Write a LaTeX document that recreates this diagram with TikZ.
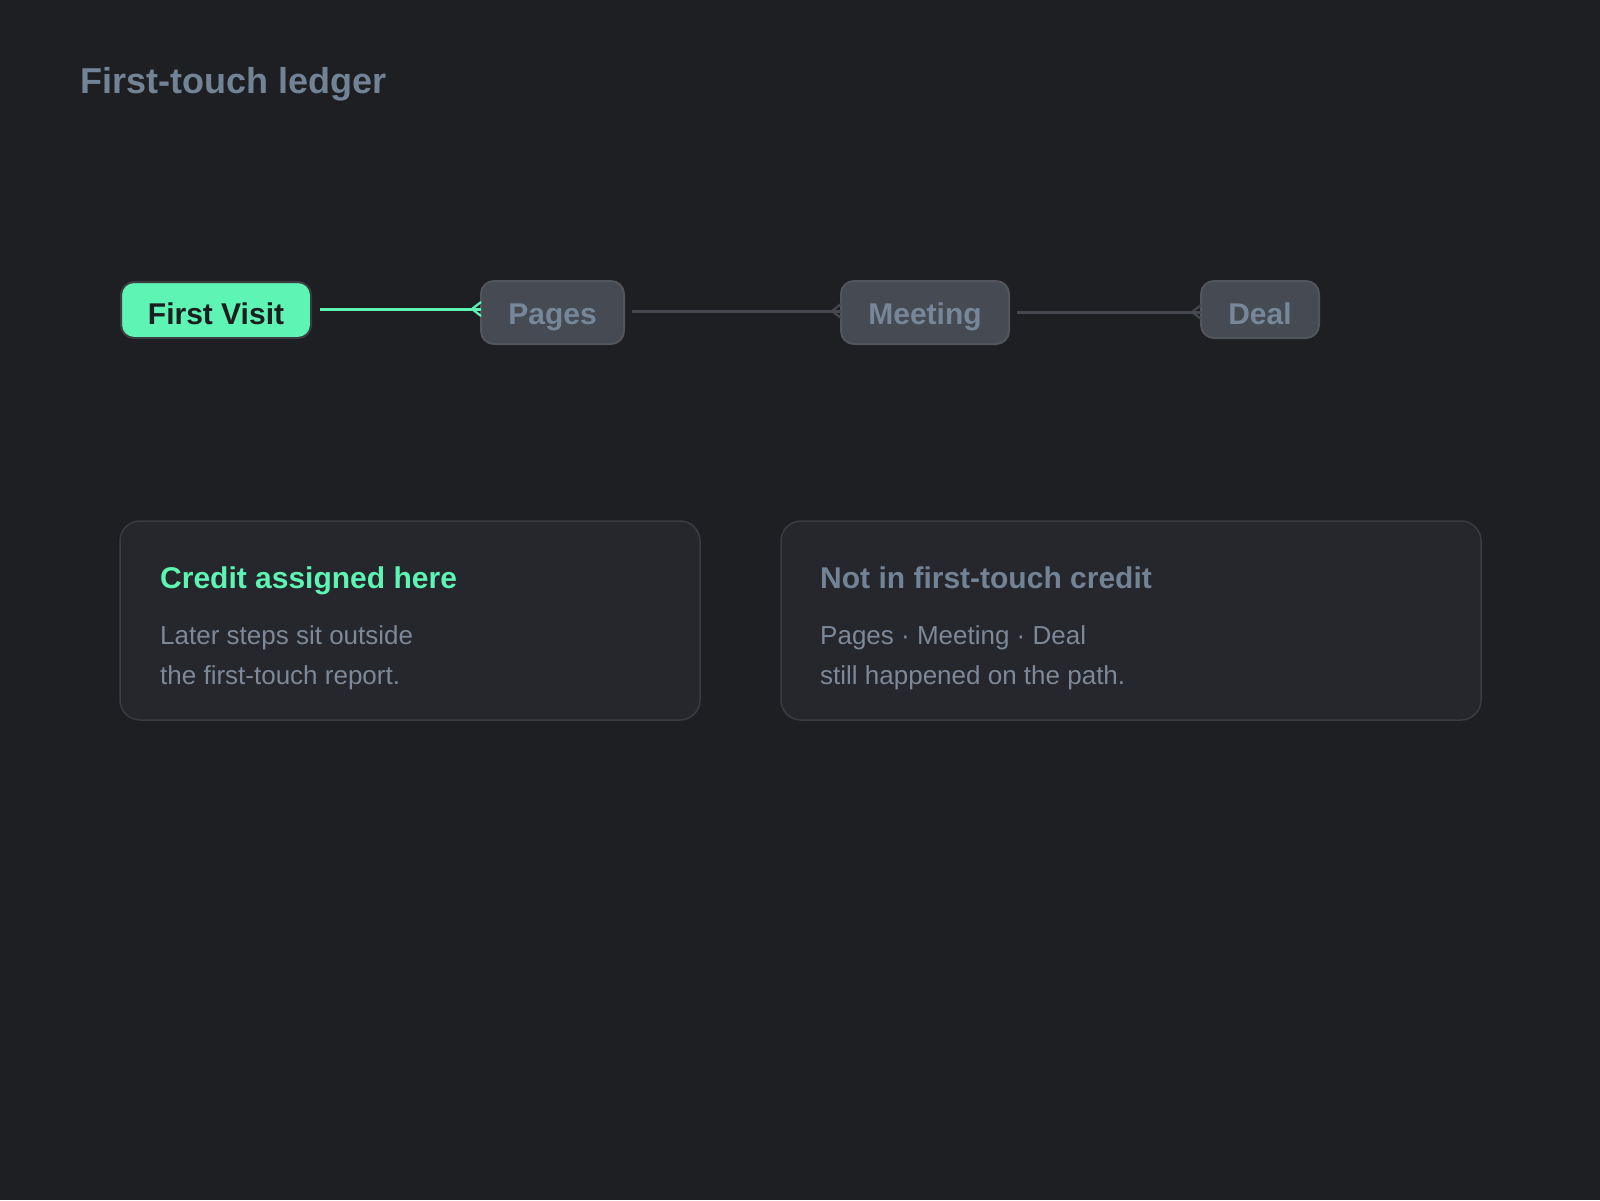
\documentclass[tikz,border=0pt]{standalone}
\usepackage{fontspec}
\setmainfont{Liberation Sans}
\definecolor{bg}{HTML}{1E1F22}
\definecolor{mint}{HTML}{5EF5B4}
\definecolor{cardfill}{HTML}{25272C}
\definecolor{cardline}{HTML}{3A3C42}
\definecolor{chipfill}{HTML}{464A52}
\definecolor{chipline}{HTML}{52555C}
\definecolor{chiptext}{HTML}{76879A}
\definecolor{titlecol}{HTML}{738396}
\definecolor{bodycol}{HTML}{7D8898}
\definecolor{greyline}{HTML}{45484F}
\definecolor{darktext}{HTML}{1B1D1F}
\begin{document}
\begin{tikzpicture}[x=1pt,y=-1pt,
  chip/.style={draw=chipline, line width=2pt, fill=chipfill, rounded corners=13pt,
    text=chiptext, font=\fontsize{30}{36}\selectfont\bfseries, inner sep=0pt, outer sep=0pt},
  firstchip/.style={chip, fill=mint, draw=cardline, text=darktext},
  card/.style={draw=cardline, line width=1.5pt, fill=cardfill, rounded corners=20pt},
  link/.style={line width=3pt, greyline},
  greenlink/.style={line width=3pt, mint},
  foot/.style={line width=2.2pt}
]
\fill[bg] (0,0) rectangle (1600,1200);
\useasboundingbox (0,0) rectangle (1600,1200);

\node[anchor=base west, text=titlecol, font=\fontsize{36}{42}\selectfont\bfseries, inner sep=0pt] (title) at (80,93) {First-touch ledger};

\node[firstchip, minimum width=190pt, minimum height=56pt, text height=29pt, text depth=0pt] (fv) at (216,310) {First Visit};
\node[chip, minimum width=143pt, minimum height=63pt, text height=24pt, text depth=0pt] (pages) at (552.5,312.5) {Pages};
\node[chip, minimum width=168pt, minimum height=63pt, text height=24pt, text depth=0pt] (meeting) at (925,312.5) {Meeting};
\node[chip, minimum width=118pt, minimum height=57pt, text height=30pt, text depth=0pt] (deal) at (1260,309.5) {Deal};

% First Visit -> Pages
\draw[greenlink] ([xshift=9pt,yshift=1pt]fv.east) -- ([yshift=1pt]fv.east -| pages.west);
\draw[mint, foot] ([xshift=-9pt,yshift=1pt]fv.east -| pages.west) -- ([yshift=8pt]fv.east -| pages.west);
\draw[mint, foot] ([xshift=-9pt,yshift=1pt]fv.east -| pages.west) -- ([yshift=-6pt]fv.east -| pages.west);

% Pages -> Meeting
\draw[link] ([xshift=8pt,yshift=1.5pt]pages.east) -- ([yshift=1.5pt]pages.east -| meeting.west);
\draw[greyline, foot] ([xshift=-9pt,yshift=1.5pt]pages.east -| meeting.west) -- ([yshift=8.5pt]pages.east -| meeting.west);
\draw[greyline, foot] ([xshift=-9pt,yshift=1.5pt]pages.east -| meeting.west) -- ([yshift=-5.5pt]pages.east -| meeting.west);

% Meeting -> Deal
\draw[link] ([xshift=8pt,yshift=0.5pt]meeting.east) -- ([yshift=0.5pt]meeting.east -| deal.west);
\draw[greyline, foot] ([xshift=-9pt,yshift=0.5pt]meeting.east -| deal.west) -- ([yshift=7.5pt]meeting.east -| deal.west);
\draw[greyline, foot] ([xshift=-9pt,yshift=0.5pt]meeting.east -| deal.west) -- ([yshift=-6.5pt]meeting.east -| deal.west);

\draw[card] (120,521) rectangle (700,720);
\draw[card] (781,521) rectangle (1481,720);

\node[anchor=base west, inner sep=0pt, text=mint, font=\fontsize{30}{36}\selectfont\bfseries] (h1) at (160,588) {Credit assigned here};
\node[anchor=base west, inner sep=0pt, text=bodycol, font=\fontsize{26}{30}\selectfont] (b1a) at (160,644) {Later steps sit outside};
\node[anchor=base west, inner sep=0pt, text=bodycol, font=\fontsize{26}{30}\selectfont] (b1b) at (160,684) {the first-touch report.};

\node[anchor=base west, inner sep=0pt, text=titlecol, font=\fontsize{30}{36}\selectfont\bfseries] (h2) at (820,588) {Not in first-touch credit};
\node[anchor=base west, inner sep=0pt, text=bodycol, font=\fontsize{26}{30}\selectfont] (b2a) at (820,644) {Pages · Meeting · Deal};
\node[anchor=base west, inner sep=0pt, text=bodycol, font=\fontsize{26}{30}\selectfont] (b2b) at (820,684) {still happened on the path.};
\end{tikzpicture}
\end{document}
